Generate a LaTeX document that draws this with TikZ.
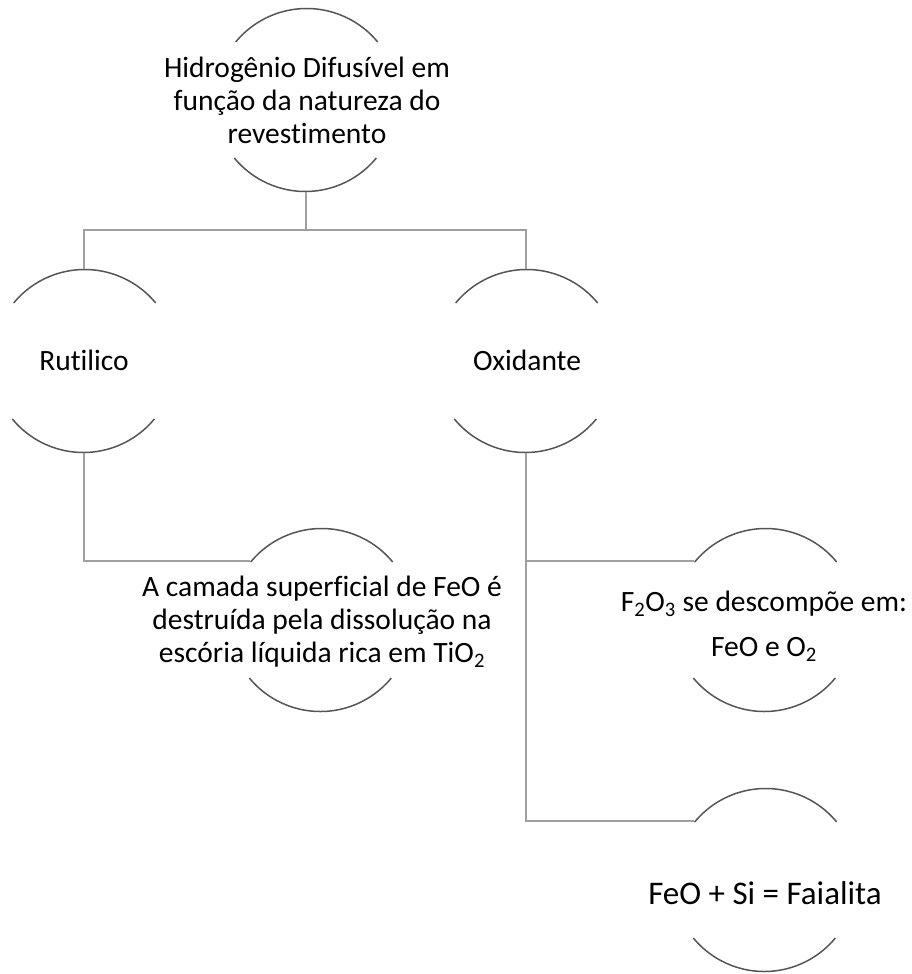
\documentclass[tikz,border=0pt]{standalone}
\usepackage{fontspec}
\setmainfont{Carlito}[RawFeature={-liga;-clig;-dlig}]
\usetikzlibrary{calc}
\definecolor{arcgray}{HTML}{555555}
\definecolor{linkgray}{HTML}{A0A0A0}
\tikzset{
  ring/.style={circle, minimum size=184pt, inner sep=0pt, draw=none},
  label text/.style={align=center, font=\fontsize{29.5}{33}\selectfont, inner sep=0pt, text=black},
  link/.style={draw=linkgray, line width=2pt},
  halfarc/.style={draw=arcgray, line width=1.5pt},
}
% draw the upper and lower arcs of a ring node
\newcommand{\ringarcs}[1]{%
  \draw[halfarc] (#1.39.5) arc[start angle=39.5, end angle=140.5, radius=92pt];
  \draw[halfarc] (#1.219.5) arc[start angle=219.5, end angle=320.5, radius=92pt];
}
\begin{document}
\begin{tikzpicture}[x=1pt, y=-1pt]
\useasboundingbox (0,0) rectangle (911,974);

% rings
\node[ring] (top) at (306,100) {};
\node[ring] (rut) at (84,361) {};
\node[ring] (oxi) at (526,361) {};
\node[ring] (cam) at (321,620) {};
\node[ring] (fdec) at (765,620) {};
\node[ring] (faia) at (765,880) {};

\ringarcs{top}
\ringarcs{rut}
\ringarcs{oxi}
\ringarcs{cam}
\ringarcs{fdec}
\ringarcs{faia}

% texts
\node[label text] (topT) at (307,100) {Hidrogênio Difusível em\\função da natureza do\\revestimento};
\node[label text] (rutT) at (84,360) {Rutilico};
\node[label text] (oxiT) at (527,360) {Oxidante};
\node[label text] (camT) at (322,622) {A camada superficial de FeO é\\destruída pela dissolução na\\escória líquida rica em TiO\textsubscript{2}};
\node[label text, font=\fontsize{29.5}{45}\selectfont] (fdecT) at (764,626) {F\textsubscript{2}O\textsubscript{3} se descompõe em:\\FeO e O\textsubscript{2}};
\node[label text, font=\fontsize{33}{38}\selectfont] (faiaT) at (765,893) {FeO + Si = Faialita};

% connectors
\coordinate (bus) at (306,230);
\draw[link] (top.south) -- (bus);
\draw[link] (bus) -| (rut.north);
\draw[link] (bus) -| (oxi.north);
\draw[link] (rut.south) |- (cam.140.5);
\draw[link] (oxi.south) |- (faia.140.5);
\draw[link] (oxi.south |- fdec.140.5) -- (fdec.140.5);
\end{tikzpicture}
\end{document}
